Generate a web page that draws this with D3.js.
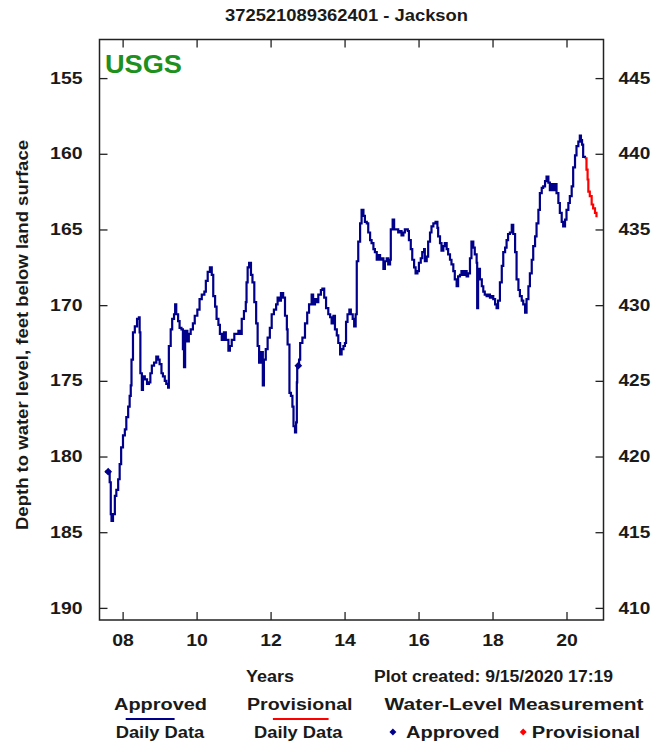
<!DOCTYPE html>
<html>
<head>
<meta charset="utf-8">
<script src="https://cdn.jsdelivr.net/npm/d3@7"></script>
<style>
body { margin: 0; background: #fff; }
text { font-family: "Liberation Sans", Arial, sans-serif; font-weight: bold; fill: #1a1a1a; }
</style>
</head>
<body>
<div id="app"></div>
<script>
// values (decimal year, depth in feet below land surface)
const approvedDaily = [
  [2007.53,181.0],[2007.65,181.7],[2007.68,183.8],[2007.70,184.25],[2007.74,183.8],[2007.79,182.6],
  [2007.83,182.2],[2007.88,181.5],[2007.92,180.5],[2007.96,179.4],[2008.01,178.6],[2008.06,178.2],
  [2008.10,177.4],[2008.15,176.7],[2008.19,176.0],[2008.22,175.3],[2008.24,173.6],[2008.28,171.8],
  [2008.33,171.4],[2008.39,170.9],[2008.44,170.8],[2008.46,171.8],[2008.48,174.5],[2008.52,175.6],
  [2008.55,174.7],[2008.60,174.9],[2008.66,175.2],[2008.71,175.1],[2008.75,174.5],[2008.79,174.0],
  [2008.85,173.8],[2008.91,173.4],[2008.96,173.6],[2009.00,173.9],[2009.05,174.5],[2009.09,174.7],
  [2009.14,175.0],[2009.18,175.2],[2009.23,175.45],[2009.25,172.7],[2009.30,171.6],[2009.34,170.9],
  [2009.39,170.6],[2009.42,169.95],[2009.45,170.6],[2009.50,171.05],[2009.54,171.5],[2009.59,171.6],
  [2009.63,172.9],[2009.66,174.1],[2009.69,171.7],[2009.75,172.4],[2009.79,171.9],[2009.84,171.6],
  [2009.90,171.2],[2009.95,170.7],[2010.02,170.3],[2010.08,169.6],[2010.14,169.3],[2010.21,169.1],
  [2010.25,168.4],[2010.30,167.8],[2010.36,167.5],[2010.41,168.0],[2010.45,169.4],[2010.50,170.1],
  [2010.54,170.9],[2010.59,171.3],[2010.63,171.9],[2010.68,172.3],[2010.74,171.8],[2010.79,172.3],
  [2010.86,173.0],[2010.90,172.7],[2010.95,172.3],[2011.02,171.9],[2011.08,171.9],[2011.13,171.7],
  [2011.17,171.9],[2011.22,170.9],[2011.28,170.4],[2011.33,169.8],[2011.35,168.5],[2011.38,167.5],
  [2011.42,167.2],[2011.47,168.0],[2011.51,168.5],[2011.56,169.8],[2011.61,171.2],[2011.65,172.7],
  [2011.69,173.8],[2011.74,173.1],[2011.79,175.3],[2011.82,173.6],[2011.87,172.9],[2011.92,172.15],
  [2011.98,171.5],[2012.03,170.6],[2012.09,170.3],[2012.15,169.95],[2012.19,169.5],[2012.24,169.7],
  [2012.28,169.2],[2012.34,169.5],[2012.39,170.7],[2012.44,171.6],[2012.46,172.6],[2012.51,175.8],
  [2012.55,176.0],[2012.59,176.7],[2012.62,178.0],[2012.66,178.4],[2012.69,177.75],[2012.71,175.1],
  [2012.72,174.0],[2012.77,173.6],[2012.80,172.5],[2012.86,172.15],[2012.93,171.2],[2012.99,170.5],
  [2013.04,169.95],[2013.11,169.3],[2013.15,169.95],[2013.20,169.6],[2013.25,169.8],[2013.29,169.3],
  [2013.36,169.0],[2013.40,168.9],[2013.45,169.5],[2013.50,170.2],[2013.56,170.6],[2013.61,170.8],
  [2013.65,171.2],[2013.70,170.7],[2013.74,171.6],[2013.79,172.0],[2013.83,172.5],[2013.88,173.25],
  [2013.92,172.9],[2013.97,172.7],[2014.01,172.5],[2014.04,171.1],[2014.08,170.6],[2014.13,170.3],
  [2014.17,170.6],[2014.22,170.9],[2014.26,171.4],[2014.30,170.6],[2014.33,167.1],[2014.37,165.8],
  [2014.42,164.6],[2014.46,163.7],[2014.51,164.1],[2014.55,164.5],[2014.60,164.6],[2014.64,165.2],
  [2014.69,165.7],[2014.73,165.9],[2014.78,166.3],[2014.82,166.5],[2014.87,167.0],[2014.91,166.7],
  [2014.96,167.0],[2015.00,166.9],[2015.05,167.6],[2015.09,167.1],[2015.14,166.9],[2015.18,167.3],
  [2015.23,167.0],[2015.25,165.0],[2015.30,164.35],[2015.34,165.0],[2015.41,165.0],[2015.45,165.2],
  [2015.50,165.1],[2015.54,165.4],[2015.59,165.2],[2015.63,165.0],[2015.71,165.1],[2015.74,165.7],
  [2015.79,166.3],[2015.83,167.0],[2015.88,167.5],[2015.92,167.9],[2015.97,167.75],[2016.01,167.2],
  [2016.06,166.9],[2016.10,166.5],[2016.15,166.3],[2016.17,167.1],[2016.22,166.8],[2016.26,165.8],
  [2016.31,165.2],[2016.35,164.8],[2016.40,164.6],[2016.46,164.5],[2016.51,164.9],[2016.53,165.45],
  [2016.58,165.9],[2016.62,166.4],[2016.67,166.1],[2016.71,165.9],[2016.76,166.3],[2016.80,166.65],
  [2016.85,167.0],[2016.89,167.3],[2016.94,167.75],[2016.98,168.3],[2017.03,168.75],[2017.07,168.1],
  [2017.12,168.0],[2017.16,167.75],[2017.21,168.0],[2017.25,167.75],[2017.30,168.1],[2017.34,167.9],
  [2017.39,166.9],[2017.43,165.8],[2017.48,166.2],[2017.52,166.65],[2017.57,167.2],[2017.585,170.2],
  [2017.61,167.6],[2017.66,168.3],[2017.71,168.75],[2017.75,169.1],[2017.79,169.3],[2017.84,169.4],
  [2017.88,169.3],[2017.93,169.5],[2017.98,169.4],[2018.02,169.6],[2018.07,169.95],[2018.11,170.2],
  [2018.15,169.7],[2018.20,168.5],[2018.25,167.4],[2018.29,166.5],[2018.34,166.2],[2018.38,165.7],
  [2018.42,165.3],[2018.47,165.2],[2018.52,164.7],[2018.56,165.3],[2018.61,166.5],[2018.65,168.3],
  [2018.70,169.0],[2018.74,169.4],[2018.79,169.7],[2018.83,169.95],[2018.88,170.5],[2018.92,169.6],
  [2018.97,168.75],[2019.01,167.9],[2019.06,167.0],[2019.10,166.1],[2019.15,165.45],[2019.19,164.6],
  [2019.24,163.7],[2019.28,162.6],[2019.33,162.25],[2019.37,162.15],[2019.42,161.8],[2019.46,161.5],
  [2019.51,161.9],[2019.55,162.4],[2019.60,162.0],[2019.64,162.4],[2019.69,162.0],[2019.73,162.6],
  [2019.78,163.25],[2019.82,163.9],[2019.87,164.5],[2019.91,164.8],[2019.96,164.35],[2020.00,163.7],
  [2020.05,163.25],[2020.09,162.8],[2020.14,162.15],[2020.18,160.9],[2020.23,160.1],[2020.27,159.5],
  [2020.32,159.2],[2020.36,158.8],[2020.39,159.1],[2020.42,159.4],[2020.45,160.2],[2020.50,160.3]
]
const provisionalDaily = [
  [2020.50,160.3],[2020.54,161.05],[2020.57,161.7],[2020.59,162.5],[2020.63,162.8],
  [2020.68,163.35],[2020.72,163.6],[2020.77,163.9],[2020.81,164.2]
]
const measuredApproved = [[2007.61,181.0],[2012.75,174.0]]

const yearTicks = [2008, 2010, 2012, 2014, 2016, 2018, 2020]
const depthTicks = [155, 160, 165, 170, 175, 180, 185, 190]
const elevationTicks = [410, 415, 420, 425, 430, 435, 440, 445]
const landSurface = 600

const blue = '#00008a'
const red = '#ff0000'
const plotLeft = 99.5, plotRight = 603.5, plotTop = 39.5, plotBottom = 620

var svg = d3.select('#app').append('svg').attr('width', 656).attr('height', 747)

const x = d3.scaleLinear().domain([2007.375, 2021.0]).range([plotLeft, plotRight])
const y = d3.scaleLinear().domain([152.45, 190.8]).range([plotTop, plotBottom])
const yElev = d3.scaleLinear().domain([landSurface - 152.45, landSurface - 190.8]).range([plotTop, plotBottom])

// text squeezed/stretched to the width it has in the picture
const label = (str, tx, ty, w, size, opts = {}) => {
  const t = svg.append('text').attr('x', tx).attr('y', ty).text(str)
    .style('font-size', size + 'px')
    .attr('textLength', w).attr('lengthAdjust', 'spacingAndGlyphs')
  if (opts.fill) t.style('fill', opts.fill)
  if (opts.anchor) t.attr('text-anchor', opts.anchor)
  if (opts.rotate) t.attr('transform', `rotate(-90,${tx},${ty})`)
  return t
}

const fitTicks = (g, cw) => {
  g.select('.domain').remove()
  g.attr('font-family', null)
  g.selectAll('.tick line').attr('stroke', '#222').attr('stroke-width', 1.3)
  g.selectAll('.tick text')
    .style('font-size', '16px')
    .attr('textLength', function () { return this.textContent.length * cw })
    .attr('lengthAdjust', 'spacingAndGlyphs')
}

// axes, ticks pointing inward
svg.append('g').attr('transform', `translate(${plotLeft},0)`)
  .call(d3.axisLeft(y).tickValues(depthTicks).tickSizeInner(-8).tickSizeOuter(0).tickPadding(17))
  .call(g => fitTicks(g, 10.8))
svg.append('g').attr('transform', `translate(${plotRight},0)`)
  .call(d3.axisRight(yElev).tickValues(elevationTicks).tickSizeInner(-8).tickSizeOuter(0).tickPadding(15))
  .call(g => fitTicks(g, 10.6))
svg.append('g').attr('transform', `translate(0,${plotBottom})`)
  .call(d3.axisBottom(x).tickValues(yearTicks).tickSizeInner(-8).tickSizeOuter(0).tickPadding(15)
    .tickFormat(d => String(d % 100).padStart(2, '0')))
  .call(g => fitTicks(g, 10.8))
svg.append('g').attr('transform', `translate(0,${plotTop})`)
  .call(d3.axisTop(x).tickValues(yearTicks).tickSizeInner(-8).tickSizeOuter(0).tickFormat(''))
  .call(g => fitTicks(g, 10.8))

svg.append('rect').attr('x', plotLeft).attr('y', plotTop)
  .attr('width', plotRight - plotLeft).attr('height', plotBottom - plotTop)
  .attr('fill', 'none').attr('stroke', '#222').attr('stroke-width', 1.5)

// daily series
const line = d3.line().x(d => x(d[0])).y(d => y(d[1])).curve(d3.curveStepAfter)
svg.append('path').datum(approvedDaily).attr('d', line)
  .attr('fill', 'none').attr('stroke', blue).attr('stroke-width', 2.2)
svg.append('path').datum(provisionalDaily).attr('d', line)
  .attr('fill', 'none').attr('stroke', red).attr('stroke-width', 2.2)

const diamond = d3.symbol().type(d3.symbolSquare).size(30)
svg.selectAll('.meas').data(measuredApproved).join('path').attr('class', 'meas')
  .attr('d', diamond).attr('fill', blue)
  .attr('transform', d => `translate(${x(d[0])},${y(d[1])}) rotate(45)`)

// titles
label('372521089362401 - Jackson', 225, 20.5, 243, 16)
label('USGS', 105, 73, 77, 25, { fill: '#1e9020' })
label('Depth to water level, feet below land surface', 28, 530, 390, 16, { rotate: true })
label('Years', 246, 682, 48, 16)
label('Plot created: 9/15/2020  17:19', 374, 682, 239, 16)

// legend
label('Approved', 114, 709.5, 93, 16)
label('Daily Data', 115.7, 737.5, 88.6, 16)
svg.append('line').attr('x1', 125.7).attr('x2', 174.6).attr('y1', 719).attr('y2', 719)
  .attr('stroke', blue).attr('stroke-width', 2)
label('Provisional', 247, 709.5, 105.5, 16)
label('Daily Data', 254, 737.5, 88.5, 16)
svg.append('line').attr('x1', 272.9).attr('x2', 328.6).attr('y1', 719).attr('y2', 719)
  .attr('stroke', red).attr('stroke-width', 2)
label('Water-Level Measurement', 384.6, 709.5, 259, 16)
svg.append('path').attr('d', d3.symbol().type(d3.symbolSquare).size(24))
  .attr('fill', blue).attr('transform', 'translate(392.9,732) rotate(45)')
label('Approved', 406, 737.5, 93.6, 16)
svg.append('path').attr('d', d3.symbol().type(d3.symbolSquare).size(24))
  .attr('fill', red).attr('transform', 'translate(523.2,732) rotate(45)')
label('Provisional', 531.8, 737.5, 108.2, 16)
</script>
</body>
</html>
